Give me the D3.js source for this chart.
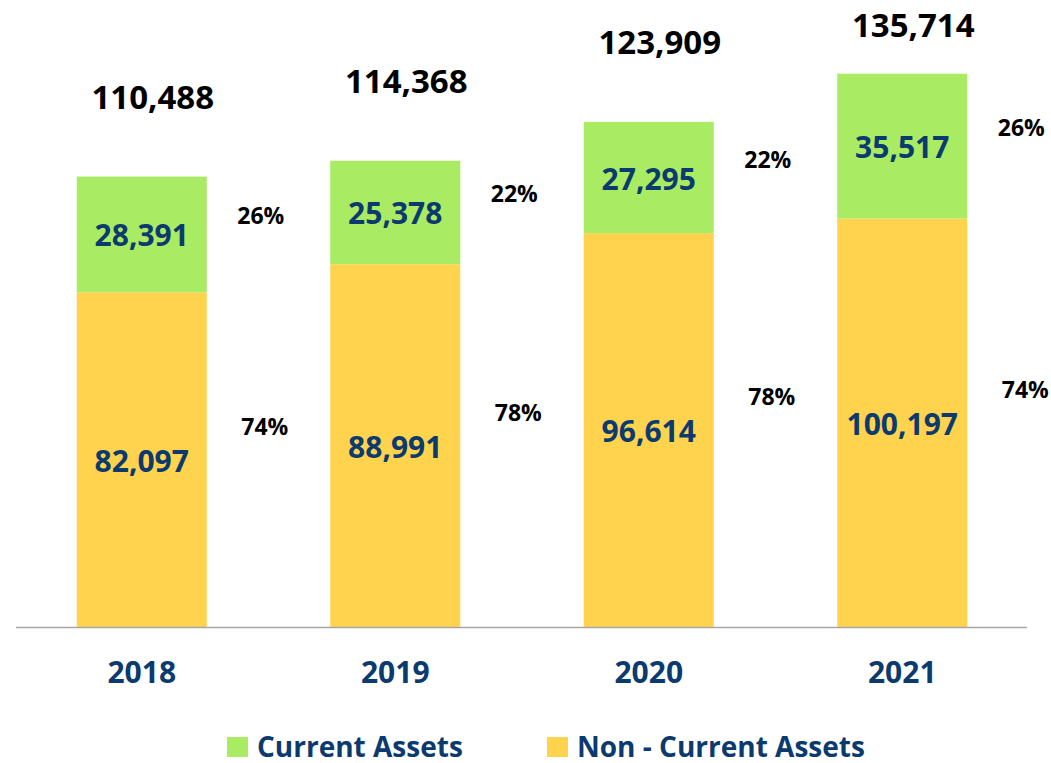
<!DOCTYPE html>
<html><head><meta charset="utf-8">
<script src="https://cdnjs.cloudflare.com/ajax/libs/d3/7.8.5/d3.min.js"></script>
<style>html,body{margin:0;padding:0;background:#fff;}svg{display:block;font-family:"Open Sans",sans-serif;font-weight:bold;}</style>
</head><body>
<svg id="c" width="1051" height="763"></svg>
<script>
const years = ["2018", "2019", "2020", "2021"];
const nonCurrentAssets = [82097, 88991, 96614, 100197];
const currentAssets = [28391, 25378, 27295, 35517];
const totals = [110488, 114368, 123909, 135714];
const currentPct = ["26%", "22%", "22%", "26%"];
const nonCurrentPct = ["74%", "78%", "78%", "74%"];
const seriesNames = ["Current Assets", "Non - Current Assets"];

const GREEN = "#A9EB62", YELLOW = "#FFD34E", NAVY = "#0B3A6E";
const svg = d3.select("#c");
const x = d3.scaleBand().domain(years).range([15, 1029]).paddingInner(0.487).paddingOuter(0.2435);
const y = d3.scaleLinear().domain([0, 150000]).range([627, 15.5]);
const fmt = d3.format(",");

const data = years.map((yr, i) => ({yr, nc: nonCurrentAssets[i], cur: currentAssets[i], tot: totals[i], cp: currentPct[i], np: nonCurrentPct[i]}));

// bars
svg.selectAll("rect.nc").data(data).join("rect").attr("class","nc")
  .attr("x", d => x(d.yr)).attr("width", x.bandwidth())
  .attr("y", d => y(d.nc)).attr("height", d => y(0) - y(d.nc)).attr("fill", YELLOW);
svg.selectAll("rect.cur").data(data).join("rect").attr("class","cur")
  .attr("x", d => x(d.yr)).attr("width", x.bandwidth())
  .attr("y", d => y(d.nc + d.cur)).attr("height", d => y(d.nc) - y(d.nc + d.cur)).attr("fill", GREEN);

// axis
const xAxis = svg.append("g").attr("transform", `translate(0,${y(0)})`).call(d3.axisBottom(x).tickSize(0).tickPadding(0));
xAxis.select(".domain").attr("d", "M16,0.5H1027").attr("stroke", "#A6A6A6").attr("stroke-width", 1.6);
xAxis.selectAll(".tick text").attr("y", 56).attr("dy", null).attr("fill", NAVY)
  .style("font-size", "30px").style("font-family", '"Open Sans",sans-serif').style("font-weight", "bold");

// value labels inside bars
svg.selectAll("text.vnc").data(data).join("text").attr("class","vnc")
  .attr("x", d => x(d.yr) + x.bandwidth()/2).attr("y", d => (y(0) + y(d.nc))/2 + 12)
  .attr("text-anchor","middle").attr("fill", NAVY).style("font-size","30px").text(d => fmt(d.nc));
svg.selectAll("text.vcur").data(data).join("text").attr("class","vcur")
  .attr("x", d => x(d.yr) + x.bandwidth()/2).attr("y", d => (y(d.nc) + y(d.nc + d.cur))/2 + 12)
  .attr("text-anchor","middle").attr("fill", NAVY).style("font-size","30px").text(d => fmt(d.cur));

// totals
svg.selectAll("text.tot").data(data).join("text").attr("class","tot")
  .attr("x", d => x(d.yr) + x.bandwidth()/2 + 11).attr("y", d => Math.max(y(d.tot) - 80, 25) + 12)
  .attr("text-anchor","middle").attr("fill", "#000").style("font-size","33px").text(d => fmt(d.tot));

// percentages
svg.selectAll("text.pc").data(data).join("text").attr("class","pc")
  .attr("x", d => x(d.yr) + x.bandwidth() + 54).attr("y", d => (y(d.nc) + y(d.nc + d.cur))/2 - 18 + 8)
  .attr("text-anchor","middle").attr("fill", "#000").style("font-size","23px").text(d => d.cp);
svg.selectAll("text.pn").data(data).join("text").attr("class","pn")
  .attr("x", d => x(d.yr) + x.bandwidth() + 58).attr("y", d => (y(0) + y(d.nc))/2 - 33 + 8)
  .attr("text-anchor","middle").attr("fill", "#000").style("font-size","23px").text(d => d.np);

// legend
const legX = [227, 547];
const leg = svg.selectAll("g.leg").data(seriesNames).join("g").attr("class","leg")
  .attr("transform", (d, i) => `translate(${legX[i]},737)`);
leg.append("rect").attr("width", 21).attr("height", 20).attr("fill", (d, i) => i === 0 ? GREEN : YELLOW);
leg.append("text").attr("x", 30).attr("y", 19.5).attr("fill", NAVY).style("font-size","28px").text(d => d);
</script>
</body></html>
